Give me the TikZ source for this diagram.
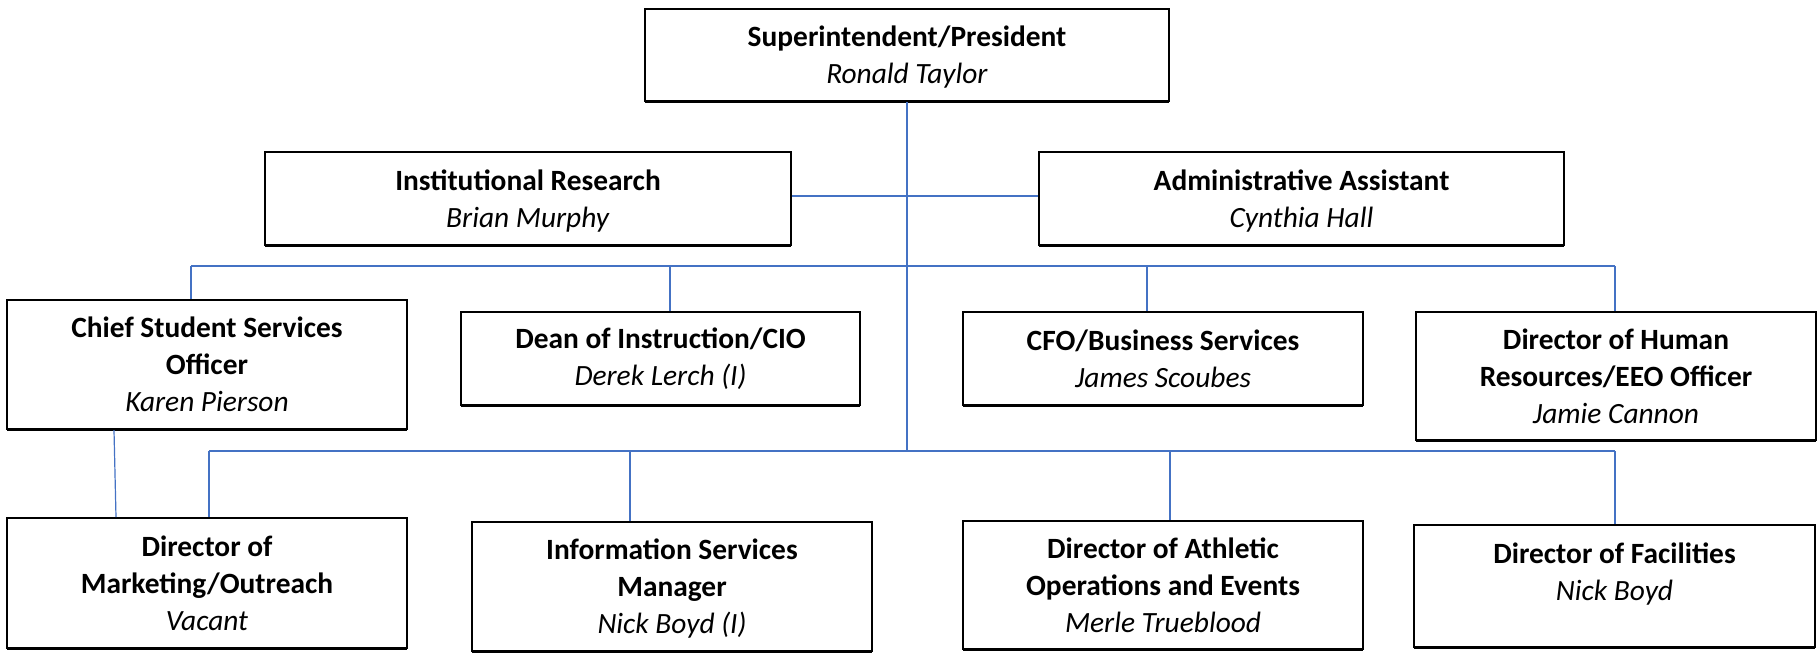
\documentclass[tikz,border=0pt]{standalone}
\usepackage{fontspec}
\setmainfont{Carlito}
\usepackage{tikz}
\usetikzlibrary{positioning,calc,shadows}
\usepackage{xcolor}
\definecolor{orgblue}{HTML}{4472C4}
\tikzset{
    post/.style={
        draw,
        rectangle,
        fill=white,
        line width=1pt,
        drop shadow={shadow xshift=0pt, shadow yshift=-1pt, opacity=1, fill=black},
        align=center,
        inner sep=2pt,
        font=\fontsize{14.7}{18.5}\selectfont
    },
    link/.style={draw=orgblue, line width=0.6pt},
    bus/.style={draw=orgblue, line width=1.1pt}
}

\begin{document}
\begin{tikzpicture}[x=0.5pt, y=-0.5pt]
  \useasboundingbox (0,0) rectangle (1818,655);

  % Top level
  \node[post, minimum width=262pt, minimum height=46pt, text depth=0pt] (pres) at (907,55) {\textbf{Superintendent/President}\\\textit{Ronald Taylor}};

  % Staff
  \node[post, minimum width=263pt, minimum height=46.5pt, text depth=0pt] (ir) at (528,198.5) {\textbf{Institutional Research}\\\textit{Brian Murphy}};
  \node[post, minimum width=262.5pt, minimum height=46.5pt, text depth=0pt] (aa) at (1301.5,198.5) {\textbf{Administrative Assistant}\\\textit{Cynthia Hall}};

  % Second row
  \node[post, minimum width=200pt, minimum height=64.5pt] (csso) at (207,364.5) {\textbf{Chief Student Services}\\\textbf{Officer}\\\textit{Karen Pierson}};
  \node[post, minimum width=199.5pt, minimum height=46.5pt] (dean) at (660.5,358.5) {\textbf{Dean of Instruction/CIO}\\\textit{Derek Lerch (I)}};
  \node[post, minimum width=200pt, minimum height=46.5pt] (cfo) at (1163,358.5) {\textbf{CFO/Business Services}\\\textit{James Scoubes}};
  \node[post, minimum width=200pt, minimum height=64pt] (hr) at (1616,376) {\textbf{Director of Human}\\\textbf{Resources/EEO Officer}\\\textit{Jamie Cannon}};

  % Third row
  \node[post, minimum width=200pt, minimum height=65pt] (mkt) at (207,583) {\textbf{Director of}\\\textbf{Marketing/Outreach}\\\textit{Vacant}};
  \node[post, minimum width=200pt, minimum height=64.5pt, text depth=0pt] (info) at (672,586.5) {\textbf{Information Services}\\\textbf{Manager}\\\textit{Nick Boyd (I)}};
  \node[post, minimum width=200pt, minimum height=64pt] (ath) at (1163,585) {\textbf{Director of Athletic}\\\textbf{Operations and Events}\\\textit{Merle Trueblood}};
  \node[post, minimum width=200.5pt, minimum height=61pt, text depth=14pt] (fac) at (1614.5,586) {\textbf{Director of Facilities}\\\textit{Nick Boyd}};

  % Bus points
  \coordinate (trunk) at (907,451);
  \coordinate (b1l) at (191,266);
  \coordinate (b1r) at (1615,266);
  \coordinate (b2l) at (209,451);
  \coordinate (b2r) at (1615,451);
  \coordinate (mktup) at ($(mkt.north)+(-91,0)$);

  % Connectors
  \draw[link] (pres.south) -- (trunk);
  \draw[bus] (ir.east |- 0,196) -- (aa.west |- 0,196);
  \draw[bus] (b1l) -- (b1r);
  \draw[bus] (b2l) -- (b2r);
  \draw[link] (b1l) -- (b1l |- csso.north);
  \draw[link] (670,266) -- (670,266 |- dean.north);
  \draw[link] (1147,266) -- (1147,266 |- cfo.north);
  \draw[link] (b1r) -- (b1r |- hr.north);
  \draw[link] (b2l) -- (b2l |- mkt.north);
  \draw[link] (630,451) -- (630,451 |- info.north);
  \draw[link] (1170,451) -- (1170,451 |- ath.north);
  \draw[link] (b2r) -- (b2r |- fac.north);
  \draw[link] ($(csso.south)+(-93,0)$) -- (mktup);
\end{tikzpicture}
\end{document}
